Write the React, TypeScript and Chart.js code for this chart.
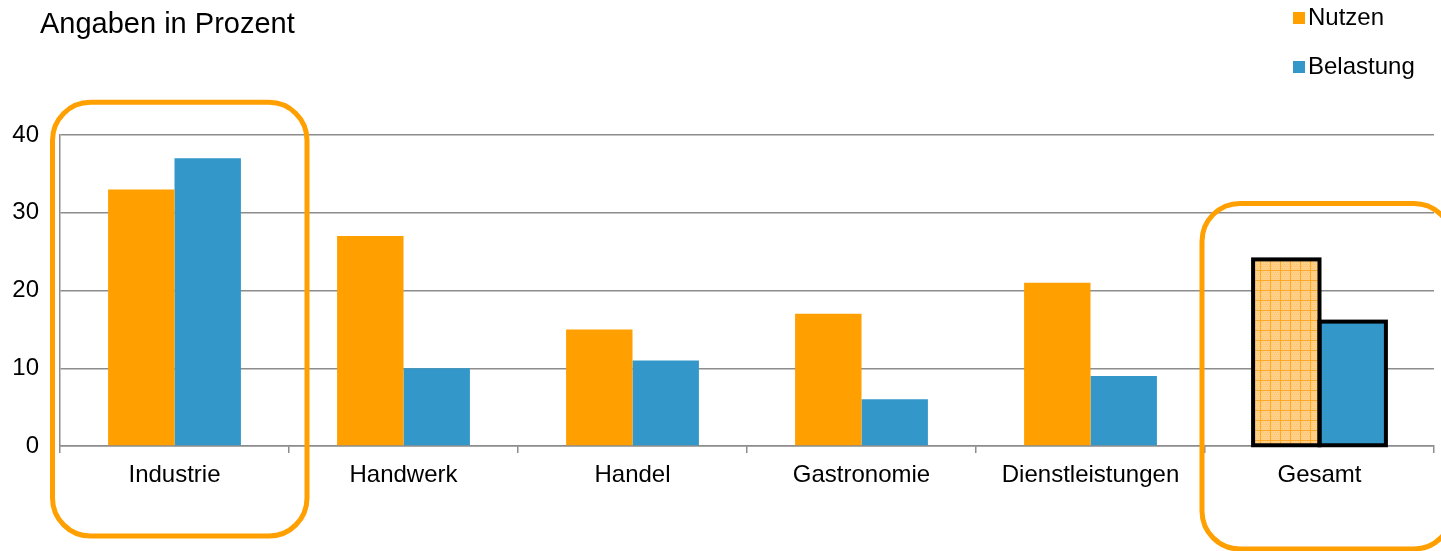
import React, { useEffect, useRef } from "react";
import { Chart, registerables } from "chart.js";

Chart.register(...registerables);

const categories = ["Industrie", "Handwerk", "Handel", "Gastronomie", "Dienstleistungen", "Gesamt"];
const nutzen = [33, 27, 15, 17, 21, 24];
const belastung = [37, 10, 11, 6, 9, 16];
const seriesLabels = ["Nutzen", "Belastung"];
const yTicks = [0, 10, 20, 30, 40];
const titleText = "Angaben in Prozent";
const highlighted = [0, 5];
const totalIndex = 5;

const ORANGE = "#FF9F00";
const BLUE = "#3397C9";
const GRID = "#8C8C8C";
const FONT = "'Liberation Sans', Arial, sans-serif";

function makePattern(): CanvasPattern | string {
  const c = document.createElement("canvas");
  c.width = 10;
  c.height = 10;
  const g = c.getContext("2d");
  if (!g) return "#FFD08A";
  g.fillStyle = "#FFD08A";
  g.fillRect(0, 0, 10, 10);
  g.fillStyle = "rgba(255,170,40,0.25)";
  for (let i = 0; i < 10; i += 2) {
    for (let j = 0; j < 10; j += 2) {
      g.fillRect(i + ((j / 2) % 2), j, 1, 1);
    }
  }
  g.fillStyle = "#FFA726";
  g.fillRect(0, 0, 10, 1);
  g.fillRect(0, 0, 1, 10);
  const p = g.createPattern(c, "repeat");
  return p || "#FFD08A";
}

const decorPlugin = {
  id: "decor",
  afterDatasetsDraw(chart: any) {
    const ctx = chart.ctx as CanvasRenderingContext2D;
    ctx.save();
    ctx.strokeStyle = "#000";
    ctx.lineWidth = 4;
    ctx.lineJoin = "miter";
    chart.data.datasets.forEach((_d: any, di: number) => {
      const meta = chart.getDatasetMeta(di);
      const el = meta.data[totalIndex];
      if (!el) return;
      const w = el.width;
      ctx.strokeRect(el.x - w / 2, el.y, w, el.base - el.y);
    });
    ctx.restore();
  },
  afterDraw(chart: any) {
    const ctx = chart.ctx as CanvasRenderingContext2D;
    const x = chart.scales.x;
    const y = chart.scales.y;
    const area = chart.chartArea;
    ctx.save();
    // title
    ctx.fillStyle = "#000";
    ctx.font = `29px ${FONT}`;
    ctx.textAlign = "left";
    ctx.textBaseline = "alphabetic";
    ctx.fillText(titleText, 40, 33);

    // legend
    const colors = [ORANGE, BLUE];
    const ys = [18, 67];
    ctx.font = `24px ${FONT}`;
    ctx.textBaseline = "middle";
    seriesLabels.forEach((lab, i) => {
      ctx.fillStyle = colors[i];
      ctx.fillRect(1293, ys[i] - 6, 12, 12);
      ctx.fillStyle = "#000";
      ctx.fillText(lab, 1308, ys[i]);
    });

    // highlight boxes
    const catW = (area.right - area.left) / categories.length;
    ctx.strokeStyle = "#FFA000";
    ctx.lineWidth = 5;
    highlighted.forEach((idx) => {
      const cx = x.getPixelForValue(idx);
      const left = cx - catW / 2 + (idx === totalIndex ? -3 : -7.5);
      const right = cx + catW / 2 + 18;
      const maxV = Math.max(nutzen[idx], belastung[idx]);
      const top = y.getPixelForValue(maxV) - 56;
      const bottom = idx === totalIndex ? area.bottom + 103 : area.bottom + 90;
      const r = 38;
      ctx.beginPath();
      ctx.moveTo(left + r, top);
      ctx.lineTo(right - r, top);
      ctx.arcTo(right, top, right, top + r, r);
      ctx.lineTo(right, bottom - r);
      ctx.arcTo(right, bottom, right - r, bottom, r);
      ctx.lineTo(left + r, bottom);
      ctx.arcTo(left, bottom, left, bottom - r, r);
      ctx.lineTo(left, top + r);
      ctx.arcTo(left, top, left + r, top, r);
      ctx.closePath();
      ctx.stroke();
    });
    ctx.restore();
  },
};

export default function App() {
  const ref = useRef<HTMLCanvasElement | null>(null);
  useEffect(() => {
    document.body.style.margin = "0";
    const canvas = ref.current;
    if (!canvas) return;
    const pattern = makePattern();
    const chart = new Chart(canvas, {
      type: "bar",
      data: {
        labels: categories,
        datasets: [
          {
            label: seriesLabels[0],
            data: nutzen,
            backgroundColor: (c: any) => (c.dataIndex === totalIndex ? pattern : ORANGE),
            borderWidth: 0,
          } as any,
          {
            label: seriesLabels[1],
            data: belastung,
            backgroundColor: BLUE,
            borderWidth: 0,
          } as any,
        ],
      },
      options: {
        responsive: false,
        animation: false,
        devicePixelRatio: 1,
        categoryPercentage: 0.58,
        barPercentage: 1.0,
        layout: { padding: { top: 135, right: 7, left: 0, bottom: 0 } },
        plugins: {
          legend: { display: false },
          title: { display: false },
          tooltip: { enabled: false },
        },
        scales: {
          x: {
            grid: {
              display: true,
              drawOnChartArea: false,
              drawTicks: true,
              tickLength: 7,
              color: GRID,
              lineWidth: 1.5,
              offset: true,
            },
            border: { display: true, color: GRID, width: 1.5 },
            ticks: {
              color: "#000",
              font: { family: FONT, size: 24 },
              padding: 8,
              maxRotation: 0,
              autoSkip: false,
            },
            afterFit: (s: any) => {
              s.height = 105;
            },
          },
          y: {
            min: 0,
            max: 40,
            afterBuildTicks: (s: any) => {
              s.ticks = yTicks.map((v) => ({ value: v }));
            },
            grid: { color: GRID, lineWidth: 1.5, drawTicks: false },
            border: { display: true, color: GRID, width: 1.5 },
            ticks: {
              color: "#000",
              font: { family: FONT, size: 24 },
              padding: 21,
            },
            afterFit: (s: any) => {
              s.width = 60;
            },
          },
        },
      } as any,
      plugins: [decorPlugin],
    });
    return () => chart.destroy();
  }, []);
  return (
    <div style={{ width: 1441, height: 551, position: "relative" }}>
      <canvas ref={ref} width={1441} height={551} style={{ display: "block" }} />
    </div>
  );
}
